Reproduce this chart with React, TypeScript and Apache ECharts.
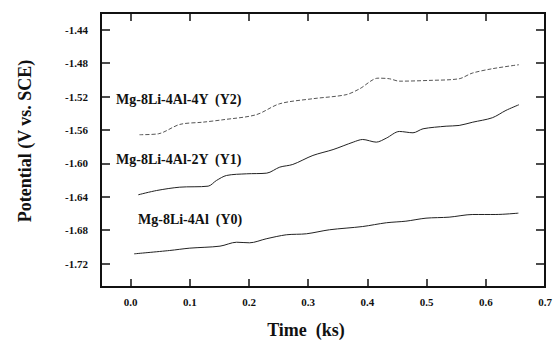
import React, { useEffect, useRef } from "react";
import * as echarts from "echarts";

const xTickValues = [0, 0.1, 0.2, 0.3, 0.4, 0.5, 0.6];
const xLabelValues = [0, 0.1, 0.2, 0.3, 0.4, 0.5, 0.6, 0.7];
const yTickValues = [-1.72, -1.68, -1.64, -1.6, -1.56, -1.52, -1.48, -1.44];

const seriesNames = ["Mg-8Li-4Al  (Y0)", "Mg-8Li-4Al-2Y  (Y1)", "Mg-8Li-4Al-4Y  (Y2)"];

const y0Time = [0.006, 0.066, 0.1, 0.151, 0.179, 0.201, 0.229, 0.263, 0.297, 0.336, 0.392, 0.432, 0.465, 0.499, 0.538, 0.578, 0.617, 0.655];
const y0Pot = [-1.7083, -1.7043, -1.7015, -1.6991, -1.6944, -1.6951, -1.6903, -1.6855, -1.6843, -1.6795, -1.6756, -1.6711, -1.6692, -1.6656, -1.6644, -1.6612, -1.6612, -1.6596];

const y1Time = [0.013, 0.044, 0.083, 0.131, 0.145, 0.162, 0.196, 0.23, 0.252, 0.274, 0.308, 0.342, 0.376, 0.392, 0.415, 0.432, 0.454, 0.477, 0.494, 0.533, 0.555, 0.578, 0.611, 0.634, 0.656];
const y1Pot = [-1.6376, -1.6325, -1.6285, -1.6273, -1.6205, -1.6145, -1.6125, -1.6117, -1.6045, -1.6013, -1.5905, -1.5835, -1.5746, -1.5714, -1.5746, -1.5698, -1.5618, -1.5634, -1.5586, -1.5555, -1.5546, -1.5507, -1.5454, -1.5366, -1.5298];

const y2Time = [0.015, 0.047, 0.083, 0.122, 0.156, 0.212, 0.252, 0.308, 0.364, 0.387, 0.418, 0.437, 0.454, 0.504, 0.555, 0.577, 0.611, 0.656];
const y2Pot = [-1.5657, -1.5646, -1.5534, -1.5507, -1.5478, -1.5418, -1.5286, -1.5226, -1.5178, -1.5107, -1.498, -1.4987, -1.5016, -1.5007, -1.4987, -1.492, -1.4867, -1.4819];

const FONT = "'Liberation Serif', 'Times New Roman', serif";

function pairs(xs: number[], ys: number[]) {
  return xs.map((x, i) => [x, ys[i]]);
}

function mkAxisLine() {
  return { show: true, onZero: false, lineStyle: { color: "#111", width: 2 } };
}
function mkTick(values: number[], len: number) {
  return { show: true, inside: true, length: len, customValues: values.slice(), lineStyle: { color: "#111", width: 1.5 } };
}

export default function App() {
  const ref = useRef<HTMLDivElement>(null);
  useEffect(() => {
    document.body.style.margin = "0";
    if (!ref.current) return;
    const chart = echarts.init(ref.current, null, { renderer: "svg" });
    chart.setOption({
      animation: false,
      backgroundColor: "#fff",
      grid: { left: 101, top: 13, right: 12, bottom: 53, containLabel: false, show: true, borderColor: "#111", borderWidth: 2, backgroundColor: "transparent" },
      xAxis: [
        {
          type: "value", min: -0.05, max: 0.7, position: "bottom",
          axisLine: mkAxisLine(), axisTick: mkTick(xTickValues, 8), splitLine: { show: false },
          axisLabel: {
            customValues: xLabelValues, margin: 9, color: "#111",
            fontFamily: FONT, fontWeight: "bold", fontSize: 11,
            formatter: (v: number) => v.toFixed(1),
          },
        },
        {
          type: "value", min: -0.05, max: 0.7, position: "top",
          axisLine: mkAxisLine(), axisTick: mkTick(xTickValues, 8), splitLine: { show: false },
          axisLabel: { show: true, customValues: xTickValues, color: "rgba(0,0,0,0)", fontSize: 1, formatter: () => "" },
        },
      ],
      yAxis: [
        {
          type: "value", min: -1.748, max: -1.42, position: "left",
          axisLine: mkAxisLine(), axisTick: mkTick(yTickValues, 9), splitLine: { show: false },
          axisLabel: {
            customValues: yTickValues, margin: 13, color: "#111",
            fontFamily: FONT, fontWeight: "bold", fontSize: 11,
            formatter: (v: number) => v.toFixed(2),
          },
        },
        {
          type: "value", min: -1.748, max: -1.42, position: "right",
          axisLine: mkAxisLine(), axisTick: mkTick(yTickValues, 9), splitLine: { show: false },
          axisLabel: { show: true, customValues: yTickValues, color: "rgba(0,0,0,0)", fontSize: 1, formatter: () => "" },
        },
      ],
      series: [
        {
          name: seriesNames[0], type: "line", data: pairs(y0Time, y0Pot), showSymbol: false, smooth: 0.3,
          lineStyle: { color: "#222", width: 1 },
        },
        {
          name: seriesNames[1], type: "line", data: pairs(y1Time, y1Pot), showSymbol: false, smooth: 0.3,
          lineStyle: { color: "#222", width: 1 },
        },
        {
          name: seriesNames[2], type: "line", data: pairs(y2Time, y2Pot), showSymbol: false, smooth: 0.3,
          lineStyle: { color: "#555", width: 1, type: [4, 2] },
        },
      ],
      graphic: [
        { type: "text", left: 116, top: 92, style: { text: seriesNames[2], font: `bold 14px ${FONT}`, fill: "#111" } },
        { type: "text", left: 116, top: 152, style: { text: seriesNames[1], font: `bold 14px ${FONT}`, fill: "#111" } },
        { type: "text", left: 138, top: 212, style: { text: seriesNames[0], font: `bold 14px ${FONT}`, fill: "#111" } },
        {
          type: "text", x: 25, y: 141, rotation: Math.PI / 2,
          style: { text: "Potential (V vs. SCE)", font: `bold 18px ${FONT}`, fill: "#111", align: "center", verticalAlign: "middle" },
        },
        {
          type: "text", x: 306, y: 330,
          style: { text: "Time  (ks)", font: `bold 18px ${FONT}`, fill: "#111", align: "center", verticalAlign: "middle" },
        },
      ],
    });
    return () => chart.dispose();
  }, []);
  return <div ref={ref} style={{ width: 557, height: 340 }} />;
}
